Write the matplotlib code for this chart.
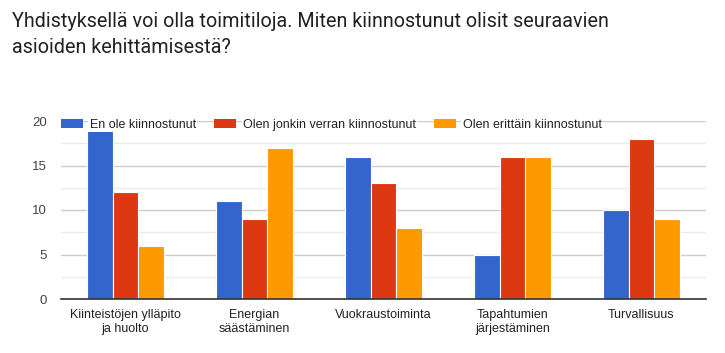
import numpy as np
import matplotlib
matplotlib.use("Agg")
import matplotlib.pyplot as plt
from matplotlib.ticker import MultipleLocator
from matplotlib.patches import Patch

# data
categories = ["Kiinteistöjen ylläpito\nja huolto", "Energian\nsäästäminen",
              "Vuokraustoiminta", "Tapahtumien\njärjestäminen", "Turvallisuus"]
series_names = ["En ole kiinnostunut", "Olen jonkin verran kiinnostunut",
                "Olen erittäin kiinnostunut"]
not_interested = [19, 11, 16, 5, 10]
somewhat = [12, 9, 13, 16, 18]
very = [6, 17, 8, 16, 9]
colors = ["#3366cc", "#dc3912", "#ff9900"]

title1 = "Yhdistyksellä voi olla toimitiloja. Miten kiinnostunut olisit seuraavien"
title2 = "asioiden kehittämisestä?"

plt.rcParams["font.family"] = ["Liberation Sans", "DejaVu Sans"]

fig = plt.figure(figsize=(7.25, 3.53), dpi=100)
ax = fig.add_axes([61 / 725, 1 - 299 / 353, 645 / 725, 178 / 353])

x = np.arange(len(categories))
w = 0.2
for i, (vals, c) in enumerate(zip([not_interested, somewhat, very], colors)):
    ax.bar(x + (i - 1) * w, vals, w, color=c, edgecolor="white", linewidth=0.8, zorder=3)

ax.set_xlim(-0.5, len(categories) - 0.5)
ax.set_ylim(0, 20)
ax.yaxis.set_major_locator(MultipleLocator(5))
ax.yaxis.set_minor_locator(MultipleLocator(2.5))
ax.grid(axis="y", which="major", color="#cccccc", linewidth=1, zorder=0)
ax.grid(axis="y", which="minor", color="#ebebeb", linewidth=1, zorder=0)
for s in ["top", "right", "left"]:
    ax.spines[s].set_visible(False)
ax.spines["bottom"].set_color("#333333")
ax.spines["bottom"].set_linewidth(1.2)
ax.spines["bottom"].set_zorder(4)

ax.set_xticks(x)
ax.set_xticklabels(categories, linespacing=1.25)
ax.tick_params(axis="x", length=0, pad=7, labelsize=9, labelcolor="#222222")
ax.tick_params(axis="y", which="both", length=0, pad=10, labelsize=9.5, labelcolor="#444444")

handles = [Patch(facecolor=c) for c in colors]
leg = ax.legend(handles, series_names, loc="center left",
                bbox_to_anchor=(61 / 725, 1 - 125 / 353), bbox_transform=fig.transFigure,
                ncol=3, frameon=False, fontsize=9, handlelength=1.75, handleheight=0.8,
                handletextpad=0.55, columnspacing=1.45, borderpad=0, borderaxespad=0)
for t in leg.get_texts():
    t.set_color("#222222")
    t.set_bbox(dict(facecolor="white", edgecolor="none", pad=1))

fig.text(12 / 725, 1 - 27 / 353, title1, fontsize=14.2, family="Roboto",
         color="#212121", va="baseline")
fig.text(12 / 725, 1 - 53 / 353, title2, fontsize=14.2, family="Roboto",
         color="#212121", va="baseline")

fig.savefig("out.png", dpi=100)
